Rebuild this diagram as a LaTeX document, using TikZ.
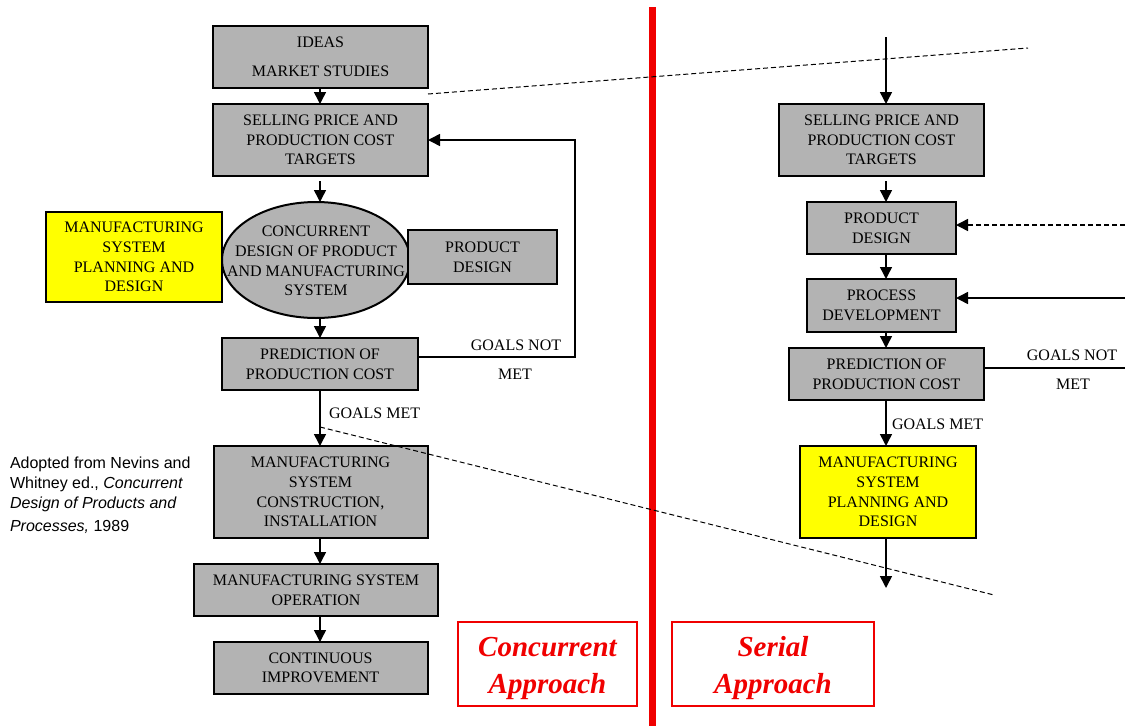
\documentclass[tikz,border=0pt]{standalone}
\usepackage{fontspec}
\setmainfont{Liberation Serif}
\newfontfamily\citefont{Liberation Sans}
\usetikzlibrary{arrows.meta,shapes.geometric}
\definecolor{boxgray}{HTML}{B3B3B3}
\definecolor{markyellow}{HTML}{FFFF00}
\definecolor{bannerred}{HTML}{F00000}

\begin{document}
\begin{tikzpicture}[x=1pt,y=-1pt,
  every node/.style={inner sep=0pt, outer sep=0pt},
  stage/.style={draw, line width=2pt, fill=boxgray, align=center,
    font=\fontsize{16}{19.6}\selectfont},
  plan/.style={stage, fill=markyellow},
  flow/.style={line width=1.5pt, -{Triangle[length=12pt,width=12pt]}},
  plain/.style={line width=1.5pt},
  divide/.style={line width=1pt, dash pattern=on 5pt off 3pt},
  lbl/.style={font=\fontsize{16}{19.6}\selectfont},
  bannerbox/.style={draw=bannerred, line width=1.4pt},
  bannertext/.style={text=bannerred, align=center,
    font=\fontsize{29}{37}\selectfont\bfseries\itshape}
]
\useasboundingbox (0,0) rectangle (1125,726);

% ---------------- concurrent approach (left) ----------------
\node[stage, minimum width=215, minimum height=62] (ideas) at (320.5,57)
  {IDEAS\\[9pt]MARKET STUDIES};
\node[stage, minimum width=215, minimum height=72] (lsell) at (320.5,140)
  {SELLING PRICE AND\\PRODUCTION COST\\TARGETS};
% the ellipse is smaller than its text block, so the text is set on top
\node[stage, ellipse, minimum width=188, minimum height=116] (conc) at (316,260) {};
\node[align=center, font=\fontsize{16}{19.6}\selectfont] (conctext) at (316,261)
  {CONCURRENT\\DESIGN OF PRODUCT\\AND MANUFACTURING\\SYSTEM};
\node[plan, minimum width=176, minimum height=90] (lplan) at (134,257)
  {MANUFACTURING\\SYSTEM\\PLANNING AND\\DESIGN};
\node[stage, minimum width=149, minimum height=54] (lprod) at (482.5,257)
  {PRODUCT\\DESIGN};
\node[stage, minimum width=196, minimum height=52] (lpred) at (320,364)
  {PREDICTION OF\\PRODUCTION COST};
\node[stage, minimum width=214, minimum height=92] (cons) at (320.5,492)
  {MANUFACTURING\\SYSTEM\\CONSTRUCTION,\\INSTALLATION};
\node[stage, minimum width=244, minimum height=52] (oper) at (316,590)
  {MANUFACTURING SYSTEM\\OPERATION};
\node[stage, minimum width=214, minimum height=52] (impr) at (320.5,668)
  {CONTINUOUS\\IMPROVEMENT};

\coordinate (lx) at (320,0);
\draw[flow] (lx |- ideas.south) -- (lx |- lsell.north);
\draw[flow, shorten <=5pt] (lx |- lsell.south) -- (lx |- conc.north);
\draw[flow] (lx |- conc.south) -- (lx |- lpred.north);
\draw[flow] (lx |- lpred.south) -- (lx |- cons.north);
\draw[flow] (lx |- cons.south) -- (lx |- oper.north);
\draw[flow] (lx |- oper.south) -- (lx |- impr.north);

\coordinate (fb) at (575,357);
\draw[flow] (lpred.east |- fb) -- (fb) |- (lsell.east);
\node[lbl] (lnot) at (516,345) {GOALS NOT};
\node[lbl] (lmet) at (515,374) {MET};
\node[lbl, anchor=west] (lgm) at (329,413) {GOALS MET};

\node[anchor=north west, align=left, font=\citefont\fontsize{16}{20}\selectfont] (cite) at (10,457)
  {Adopted from Nevins and\\Whitney ed., \textit{Concurrent}\\\textit{Design of Products and}\\[3pt]\textit{Processes,} 1989};

\node[bannerbox, minimum width=179, minimum height=84] (cbanner) at (547.5,664) {};
\node[bannertext] (ctext) at ([yshift=-4pt]cbanner.center) {Concurrent\\Approach};

% ---------------- divider ----------------
\coordinate (divtop) at (652,7);
\coordinate (divbot) at (652,726);
\draw[bannerred, line width=7pt] (divtop) -- (divbot);

% ---------------- serial approach (right) ----------------
\node[stage, minimum width=205, minimum height=72] (rsell) at (881.5,140)
  {SELLING PRICE AND\\PRODUCTION COST\\TARGETS};
\node[stage, minimum width=149, minimum height=52] (rprod) at (881.5,228)
  {PRODUCT\\DESIGN};
\node[stage, minimum width=149, minimum height=53] (rproc) at (881.5,305.5)
  {PROCESS\\DEVELOPMENT};
\node[stage, minimum width=195, minimum height=52] (rpred) at (886.5,374)
  {PREDICTION OF\\PRODUCTION COST};
\node[plan, minimum width=176, minimum height=92] (rplan) at (888,492)
  {MANUFACTURING\\SYSTEM\\PLANNING AND\\DESIGN};

\coordinate (rtop) at (886,37);
\coordinate (rend) at (886,588);
\draw[flow] (rtop) -- (rtop |- rsell.north);
\draw[flow, shorten <=5pt] (rtop |- rsell.south) -- (rtop |- rprod.north);
\draw[flow] (rtop |- rprod.south) -- (rtop |- rproc.north);
\draw[flow] (rtop |- rproc.south) -- (rtop |- rpred.north);
\draw[flow] (rtop |- rpred.south) -- (rtop |- rplan.north);
\draw[flow] (rtop |- rplan.south) -- (rend);

\coordinate (rin1) at (1125,225);
\coordinate (rin2) at (1125,298);
\coordinate (rout) at (1125,368);
\draw[flow, dash pattern=on 5pt off 3pt] (rin1) -- (rprod.east |- rin1);
\draw[flow] (rin2) -- (rproc.east |- rin2);
\draw[plain] (rpred.east |- rout) -- (rout);
\node[lbl] (rnot) at (1072,355) {GOALS NOT};
\node[lbl] (rmet) at (1073,384) {MET};
\node[lbl, anchor=west] (rgm) at (892,424) {GOALS MET};

\node[bannerbox, minimum width=202, minimum height=84] (sbanner) at (773,664) {};
\node[bannertext] (stext) at ([yshift=-4pt]sbanner.center) {Serial\\Approach};

% ---------------- dashed phase boundaries ----------------
\coordinate (d1a) at (428,94);
\coordinate (d1b) at (1028,48);
\coordinate (d2a) at (320,427);
\coordinate (d2b) at (994,595);
\draw[divide] (d1a) -- (d1b);
\draw[divide] (d2a) -- (d2b);
\end{tikzpicture}
\end{document}
